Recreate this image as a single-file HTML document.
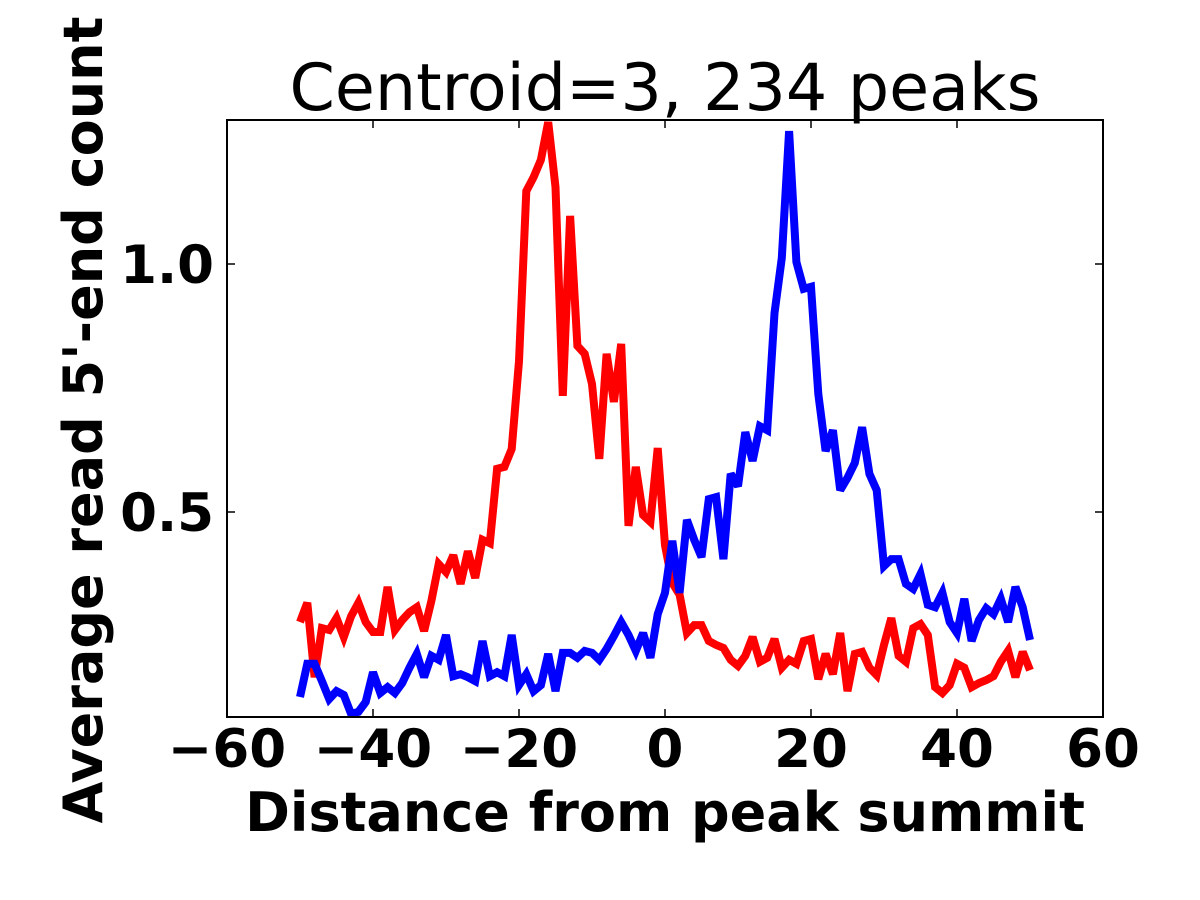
<!DOCTYPE html>
<html><head><meta charset="utf-8"><style>body{margin:0;background:#fff}svg{display:block}text{font-family:"DejaVu Sans","Liberation Sans",sans-serif}</style></head>
<body>
<svg id="chart" width="1200" height="900" xmlns="http://www.w3.org/2000/svg">
<rect width="1200" height="900" fill="#fff"/>
<g id="plot"></g>
</svg>
<script>
const xTicks=[-60,-40,-20,0,20,40,60];
const xTickLabels=["\u221260","\u221240","\u221220","0","20","40","60"];
const yTicks=[0.5,1.0];
const yTickLabels=["0.5","1.0"];
const red=[0.278,0.317,0.167,0.266,0.262,0.286,0.248,0.290,0.317,0.278,0.258,0.258,0.349,0.262,0.282,0.298,0.308,0.260,0.321,0.395,0.379,0.413,0.355,0.421,0.367,0.444,0.437,0.587,0.591,0.627,0.804,1.147,1.175,1.210,1.286,1.155,0.734,1.097,0.835,0.819,0.758,0.607,0.819,0.722,0.839,0.472,0.591,0.494,0.480,0.629,0.433,0.357,0.333,0.256,0.272,0.272,0.240,0.232,0.226,0.202,0.190,0.210,0.248,0.198,0.206,0.244,0.186,0.202,0.194,0.240,0.244,0.163,0.214,0.173,0.256,0.139,0.214,0.218,0.186,0.171,0.232,0.286,0.210,0.198,0.266,0.274,0.252,0.147,0.135,0.151,0.194,0.186,0.147,0.155,0.161,0.169,0.198,0.220,0.167,0.218,0.181];
const blue=[0.127,0.194,0.194,0.159,0.123,0.139,0.131,0.093,0.097,0.117,0.177,0.135,0.147,0.135,0.155,0.186,0.214,0.167,0.210,0.202,0.252,0.169,0.173,0.167,0.159,0.240,0.169,0.177,0.169,0.252,0.151,0.173,0.139,0.151,0.214,0.139,0.216,0.216,0.206,0.220,0.216,0.202,0.224,0.250,0.278,0.252,0.220,0.256,0.206,0.294,0.337,0.442,0.337,0.484,0.444,0.409,0.526,0.530,0.405,0.577,0.552,0.661,0.603,0.673,0.665,0.901,1.012,1.268,1.004,0.950,0.954,0.738,0.623,0.665,0.544,0.569,0.599,0.671,0.577,0.544,0.391,0.405,0.405,0.355,0.345,0.375,0.313,0.308,0.337,0.278,0.256,0.325,0.240,0.282,0.306,0.294,0.325,0.278,0.349,0.308,0.242];
const xStart=-50;
const L=227,R=1103,T=120,B=717;
const sx=v=>L+(v+60)/120*(R-L);
const sy=v=>512-(v-0.5)*496;
const NS="http://www.w3.org/2000/svg";
const g=document.getElementById('plot');
function mk(t,a){const e=document.createElementNS(NS,t);for(const k in a)e.setAttribute(k,a[k]);g.appendChild(e);return e;}
const cp=mk('clipPath',{id:'cp'});
const cr=document.createElementNS(NS,'rect');cr.setAttribute('x',L);cr.setAttribute('y',T);cr.setAttribute('width',R-L);cr.setAttribute('height',B-T);cp.appendChild(cr);
function line(arr,color,name){
 const d=arr.map((v,i)=>(i?'L':'M')+sx(xStart+i).toFixed(1)+','+sy(v).toFixed(1)).join('');
 const p=mk('path',{d:d,fill:'none',stroke:color,'stroke-width':8,'stroke-linejoin':'miter','stroke-miterlimit':3,'clip-path':'url(#cp)'});
 
 
}
line(red,'#ff0000','red-series-line');
line(blue,'#0000ff','blue-series-line');
const fr=mk('rect',{x:L,y:T,width:R-L,height:B-T,fill:'none',stroke:'#000','stroke-width':2});


xTicks.forEach((v,i)=>{
 const x=sx(v);
 mk('line',{x1:x,x2:x,y1:B,y2:B-8,stroke:'#000','stroke-width':1.5});
 mk('line',{x1:x,x2:x,y1:T,y2:T+8,stroke:'#000','stroke-width':1.5});
 const t=mk('text',{x:x,y:767,'text-anchor':'middle','font-size':53,'font-weight':'bold'});
 t.textContent=xTickLabels[i];
 
 
});
yTicks.forEach((v,i)=>{
 const y=sy(v);
 mk('line',{x1:L,x2:L+8,y1:y,y2:y,stroke:'#000','stroke-width':1.5});
 mk('line',{x1:R,x2:R-8,y1:y,y2:y,stroke:'#000','stroke-width':1.5});
 const t=mk('text',{x:214,y:y+19,'text-anchor':'end','font-size':53,'font-weight':'bold'});
 t.textContent=yTickLabels[i];
 
 
});
const tt=mk('text',{x:665,y:110,'text-anchor':'middle','font-size':65});
tt.textContent='Centroid=3, 234 peaks';


const xl=mk('text',{x:665,y:831,'text-anchor':'middle','font-size':54,'font-weight':'bold'});
xl.textContent='Distance from peak summit';


const yl=mk('text',{x:0,y:0,'text-anchor':'middle','font-size':54,'font-weight':'bold',transform:'translate(102,420) rotate(-90)'});
yl.textContent="Average read 5'-end count";


</script>
</body></html>
